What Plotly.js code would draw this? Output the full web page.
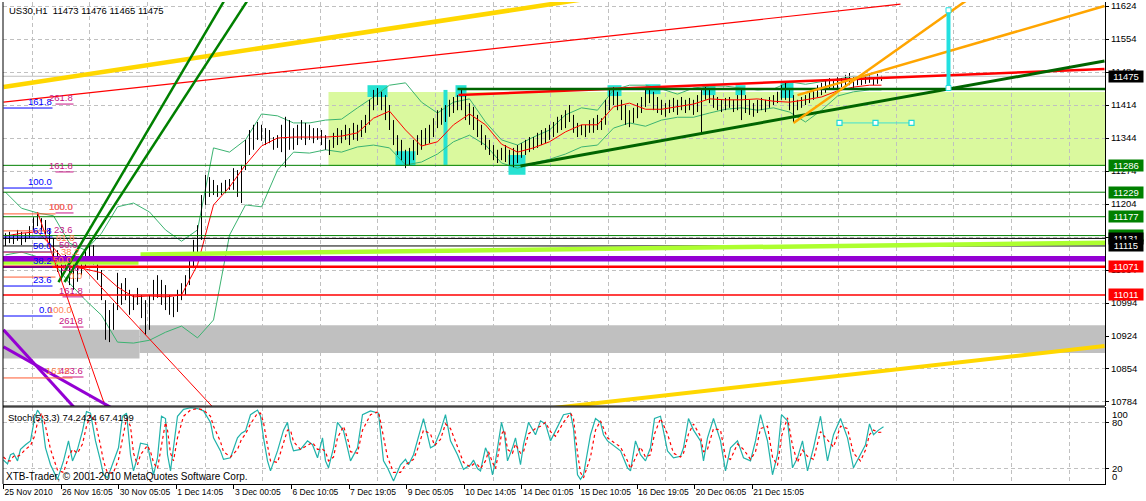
<!DOCTYPE html>
<html><head><meta charset="utf-8">
<script src="https://cdn.plot.ly/plotly-3.0.1.min.js"></script>
<style>html,body{margin:0;padding:0;background:#fff}#chart{width:1146px;height:501px}</style>
</head><body><div id="chart"></div>
<script>
// ---------- data ----------
const tickBars = [-0.5,13.9,28.3,42.7,57.1,71.5,85.9,100.3,114.7,129.1,143.5,157.9,172.3,186.7];
const tickText = ['25 Nov 2010','26 Nov 16:05','30 Nov 05:05','1 Dec 14:05','3 Dec 00:05','6 Dec 10:05','7 Dec 19:05','9 Dec 05:05','10 Dec 14:05','14 Dec 01:05','15 Dec 10:05','16 Dec 19:05','20 Dec 06:05','21 Dec 15:05'];
const priceTicks = [10784,10854,10924,10994,11064,11134,11204,11274,11344,11414,11484,11554,11624];

const barHigh = [
11142,11145,11140,11149,11145,11142,11157,11176,11183,11174,
11170,11153,11132,11106,11089,11096,11085,11081,11089,11096,
11106,11117,11117,11089,11064,11000,10979,10994,11058,11036,
11047,11022,11011,11026,11011,11000,11011,11043,11053,11043,
11032,11011,11007,11022,11036,11053,11089,11128,11159,11223,
11266,11261,11255,11244,11249,11255,11257,11280,11276,11287,
11340,11361,11372,11378,11372,11365,11361,11346,11350,11372,
11389,11382,11365,11372,11382,11376,11372,11365,11365,11361,
11350,11340,11355,11365,11361,11372,11365,11376,11372,11382,
11393,11425,11446,11450,11442,11435,11414,11382,11350,11340,
11319,11323,11340,11350,11361,11365,11372,11386,11403,11408,
11414,11425,11431,11435,11446,11435,11418,11410,11393,11372,
11350,11340,11329,11319,11323,11329,11319,11323,11329,11333,
11340,11346,11346,11355,11361,11365,11372,11378,11389,11393,
11403,11414,11393,11376,11372,11372,11382,11386,11393,11386,
11425,11446,11452,11442,11425,11414,11403,11408,11418,11431,
11450,11452,11442,11431,11425,11418,11425,11429,11425,11431,
11425,11429,11425,11435,11446,11452,11446,11435,11431,11425,
11429,11431,11425,11435,11446,11435,11425,11418,11425,11429,
11425,11431,11435,11442,11456,11461,11450,11435,11425,11431,
11435,11442,11450,11456,11461,11467,11471,11467,11473,11471,
11478,11482,11473,11471,11473,11476,11478,11473,11480,11476];
const barLow = [
11115,11121,11119,11126,11117,11123,11132,11145,11157,11149,
11140,11117,11081,11060,11043,11064,11032,11022,11039,11053,
11068,11081,11075,11043,11000,10916,10911,10937,10979,10990,
11000,10969,10979,10990,10962,10926,10937,11000,11005,10990,
10979,10969,10964,10975,11000,11011,11032,11068,11096,11128,
11202,11219,11223,11219,11223,11227,11234,11234,11219,11206,
11276,11308,11319,11340,11338,11329,11333,11319,11323,11314,
11282,11319,11319,11329,11340,11329,11340,11333,11340,11329,
11319,11308,11323,11329,11333,11340,11329,11340,11338,11346,
11355,11372,11403,11414,11403,11382,11361,11329,11308,11297,
11280,11287,11297,11308,11319,11329,11333,11346,11365,11372,
11378,11389,11397,11403,11403,11382,11372,11361,11346,11329,
11319,11308,11297,11291,11297,11293,11287,11282,11291,11302,
11308,11314,11319,11323,11329,11333,11340,11346,11355,11361,
11365,11378,11355,11346,11350,11346,11355,11355,11361,11361,
11372,11403,11414,11403,11382,11372,11367,11376,11386,11397,
11410,11418,11403,11397,11393,11389,11397,11399,11393,11403,
11397,11403,11393,11399,11355,11425,11418,11408,11403,11399,
11403,11408,11399,11403,11382,11397,11393,11389,11397,11403,
11399,11408,11414,11418,11425,11425,11403,11378,11403,11408,
11414,11418,11425,11431,11435,11440,11446,11446,11450,11452,
11452,11456,11450,11456,11456,11459,11461,11456,11459,11465];

const indBars = [0,4,8,12,16,20,24,28,32,36,40,44,48,52,56,60,64,68,72,76,80,84,88,92,96,100,104,108,112,116,120,124,128,132,136,140,144,148,152,156,160,164,168,172,176,180,184,188,192,196,200,204,208,212,216,219];
const bbUpper = [11229,11195,11185,11179,11121,11106,11142,11198,11206,11187,11149,11125,11149,11323,11314,11340,11395,11391,11376,11376,11382,11384,11408,11431,11456,11461,11420,11397,11420,11427,11378,11340,11329,11346,11361,11393,11408,11403,11446,11456,11456,11448,11437,11450,11454,11454,11450,11446,11448,11463,11458,11463,11469,11475,11473,11471];
const bbLower = [11096,11102,11092,11079,11036,11000,10968,10911,10909,10915,10932,10945,10920,10958,11138,11202,11198,11276,11314,11312,11319,11314,11325,11329,11323,11287,11293,11310,11336,11350,11329,11291,11280,11291,11299,11310,11325,11329,11365,11376,11369,11382,11388,11388,11397,11405,11408,11403,11408,11399,11378,11403,11433,11442,11446,11446];
const maRed = [11136,11142,11145,11111,11072,11066,11058,11028,11007,11009,11007,11011,11075,11202,11240,11287,11327,11344,11346,11346,11346,11348,11355,11386,11401,11361,11327,11336,11372,11395,11372,11331,11314,11323,11336,11357,11372,11372,11410,11418,11405,11405,11410,11416,11427,11425,11425,11427,11422,11420,11425,11431,11444,11452,11456,11456];

const stochBars = [
-0.5,0.5,1.25,2,3,3.75,5,6.25,7.25,8,
9,10,11.25,13,14.5,15.75,16.75,18,19.25,20.25,
21.25,22.5,23.75,24.5,25.5,27,28.25,29.25,30.25,31.25,
32,33,33.75,35.5,36.25,37,38,39,40,40.5,
41.25,42,43,44.5,46.25,48,49.5,51.25,52,53.75,
54.5,56.25,58,59,60,61.25,63,63.75,64.5,65.5,
66.25,68,69.5,70.5,71.25,72,73.75,75.5,76.75,78,
79.25,80,80.75,82,83,84.5,85.75,86.25,88,89.25,
91.25,93.25,94.5,95.5,97,98.75,100,100.75,102,103,
104.5,106.25,107.25,108.75,110,111.25,113,114.5,116.25,117,
118,118.75,120,120.75,121.75,122.5,123.25,124,124.75,125.5,
126.75,127.5,128.75,129.5,130.75,132.5,133.75,135,136.25,137.5,
139.5,141.25,142,143,143.75,144.5,146.25,147.5,148.75,149.5,
150.5,153.75,155.5,156.25,157.5,158.75,160,161.25,162.25,163.75,
165.5,167,168.75,169.5,170.75,172,173.75,174.5,175.5,177,
178.75,180,181.25,183,184.5,186.25,187.5,188.75,190.5,191.75,
193,194,195.5,196.75,198,199.25,200.5,202,203.75,205.5,
207,208.75,210.5,212,213.75,215,216,217,218.25,219.5];
const stochMain = [
31,26,38,40,30,45,51,56,85,96,
88,47,25,6,30,56,30,45,69,94,
92,56,30,12,8,28,47,88,92,38,
17,35,53,51,30,12,34,88,85,38,
17,47,88,97,99,98,95,80,60,43,
32,34,60,66,69,90,96,88,60,30,
17,43,70,80,56,43,45,56,51,34,
60,30,21,47,80,69,38,30,47,90,
95,92,30,21,4,25,32,25,38,56,
85,47,50,69,90,56,38,19,25,31,
20,17,47,38,12,30,56,80,64,30,
47,60,25,51,80,64,82,78,56,69,
90,92,72,12,6,12,64,85,80,64,
56,43,21,17,56,38,30,47,85,88,
43,34,36,47,85,70,56,30,60,85,
56,17,47,56,34,30,56,90,56,12,
38,90,82,21,34,56,17,47,88,30,
64,85,60,21,38,51,78,64,70,74.2424];
const stochSignal = [
35,30,30,36,36,38,45,50,62,80,
92,75,45,18,15,35,45,40,52,75,
90,80,50,30,14,15,32,60,85,75,
40,25,38,50,42,28,20,50,80,70,
40,30,60,88,96,98,96,88,75,55,
42,35,45,58,65,78,92,92,80,50,
30,28,55,70,70,55,45,50,54,45,
45,42,30,35,60,75,55,42,40,70,
90,94,60,35,15,15,25,28,32,45,
70,65,50,58,78,72,48,28,22,26,
25,20,30,42,28,20,40,65,70,45,
40,52,40,42,65,72,75,80,68,62,
80,92,85,40,15,8,35,70,82,72,
60,48,30,20,35,48,35,38,65,85,
65,40,35,40,65,78,62,42,45,72,
70,35,32,52,45,32,42,72,75,35,
24,62,86,50,28,44,36,32,68,58,
48,75,72,40,30,44,64,70,67,67.4199];

// horizontal lines and their axis boxes
const hLinePrice = [11475,11286,11229,11177,11137,11131,11115,11071,11011];
const hLineColor = ['#c0c0c0','#008000','#008000','#008000','#008000','#000000','#000000','#ff0000','#ff0000'];
const hLineWidth = [1,1,1,1,1,1,1,2.5,1.3];
const boxPrice = [11475,11286,11229,11177,11137,11131,11115,11071,11011];
const boxColor = ['#000000','#008000','#008000','#008000','#008000','#000000','#000000','#ff0000','#ff0000'];
const purpleBandPrice = 11088;
const limeBars = [-1,33.25,null,33.75,276];
const limePrice = [11080,11080,null,11097,11122];

// trend lines
const trendX0 = [-0.5,-0.5,123.75,13.25,14.75,8,19.25,-0.5,-0.5,113.25,113,128.75,198,197,208.5];
const trendP0 = [11452,11420,10758.7,11038.5,11038.5,11187,11070.3,10937,10901,11435.2,11448,11284.6,11435,11376,11376];
const trendX1 = [173.75,223.75,274.75,56.25,62.25,25,52.5,17.75,28.75,274.75,276,274.75,274.75,243.6,226.5];
const trendP1 = [11676,11628,10902.8,11657.9,11658.5,10773,10767,10767,10761,11490.3,11448,11507.3,11624,11656,11376];
const trendColor = ['#ffd700','#ff0000','#ffd700','#008000','#008000','#ff0000','#ff0000','#9400d3','#9400d3','#ff0000','#006400','#006400','#ffa500','#ffa500','#40e0d0'];
const trendWidth = [4.5,1.2,4,2.5,2.5,1,1,3,3,2.5,2.5,3,2.5,2.5,1];
const anchorBars = [208.5,217.5,226.5];
const anchorPrice = [11376,11376,11376];
const cyanLineBar = [235.75,235.75];
const cyanLinePrice = [11450,11615];

// rectangles
const rectGreen = {x0:80.75, x1:276, p0:11284.6, p1:11441.6};
const grayX0 = [-1,33.5], grayX1 = [33.5,276], grayP0 = [10876,10888], grayP1 = [10937,10947];
const cyanX0 = [90.5,97.5,109.5,112.5,125.75,150.5,160,174.25,182.5,193.75];
const cyanX1 = [95.5,102.5,110.5,115.25,130,154,163.75,177.5,185,197];
const cyanP0 = [11431,11285,11287,11431,11266,11433,11437,11435,11435,11429];
const cyanP1 = [11456,11316,11446,11456,11308,11456,11458,11454,11456,11461];

// fibonacci levels
const fibLineBar0 = [-0.5,-0.5,-0.5,-0.5,-0.5,-0.5,-0.5, 12.5,12.5,12.5,14.25,14.25,14.25, -0.5,-0.5,-0.5,-0.5,-0.5];
const fibLineBar1 = [11.75,11.75,11.75,11.75,11.75,11.75,11.75, 17,17,17,19.5,19.5,19.5, 12.5,11.25,12.5,12.5,16.75];
const fibLinePrice = [11407.6,11237.9,11134,11102.2,11070.3,11030,10966.4, 11416,11272,11185,11007,10943,10837, 11183,11147,11102,11049,10835];
const fibLineColor = ['#0000ff','#0000ff','#0000ff','#0000ff','#0000ff','#0000ff','#0000ff','#c71585','#c71585','#c71585','#c71585','#c71585','#c71585','#ff5a30','#ff5a30','#ff5a30','#ff5a30','#ff5a30'];
const fibText = ['161.8','100.0','61.8','50.0','38.2','23.6','0.0','261.8','161.8','100.0','161.8','261.8','423.6','100.0','100.0','161.8','23.6','61.8','50.0','38.2','50.0','23.6','0.0'];
const fibTextBar = [11.75,11.75,11.75,11.75,11.75,11.75,11.75,17,17,17,19.5,19.5,19.5,17,16.75,16.25,17,17.5,18.25,18.75,16.75,18.75,19.25];
const fibTextPrice = [11407.6,11237.9,11134,11102.2,11070.3,11030,10966.4,11416,11272,11185,11007,10943,10837,11185,10966.4,10837,11136,11119,11104,11089,11072,11056,11039];
const fibTextColor = ['#0000ff','#0000ff','#0000ff','#0000ff','#0000ff','#0000ff','#0000ff','#c71585','#c71585','#c71585','#c71585','#c71585','#c71585','#ff7f50','#ff7f50','#ff7f50','#c71585','#ff7f50','#c71585','#ff7f50','#ff7f50','#c71585','#ff7f50'];

// ---------- layout helpers ----------
const FONT = 'Liberation Sans, Arial, sans-serif';
const L=3, R=41, T=2, B=17, W=1146, H=501;
const PW = W-L-R, PH = H-T-B;
const px = v => (v-L)/PW;
const py = v => (H-B-v)/PH;
const mainDomain = [py(406), 1];
const stochDomain = [0, py(407)];

const traces = [];
const base = {mode:'lines', hoverinfo:'skip', showlegend:false, xaxis:'x'};

traces.push(Object.assign({}, base, {x:indBars, y:bbUpper, yaxis:'y', line:{color:'#3cb371', width:1}}));
traces.push(Object.assign({}, base, {x:indBars, y:bbLower, yaxis:'y', line:{color:'#3cb371', width:1}}));

const bx=[], by=[];
for (let i=0;i<barHigh.length;i++){ bx.push(i,i,null); by.push(barLow[i],barHigh[i],null); }
traces.push(Object.assign({}, base, {x:bx, y:by, yaxis:'y', connectgaps:false, line:{color:'#000', width:1}}));
traces.push(Object.assign({}, base, {x:indBars, y:maRed, yaxis:'y', line:{color:'#ff0000', width:1}}));

for (let i=0;i<hLinePrice.length;i++){
  traces.push(Object.assign({}, base, {x:[-1,276], y:[hLinePrice[i],hLinePrice[i]], yaxis:'y', line:{color:hLineColor[i], width:hLineWidth[i]}}));
}
traces.push(Object.assign({}, base, {x:limeBars, y:limePrice, yaxis:'y', connectgaps:false, line:{color:'#adff2f', width:4.5}}));
traces.push(Object.assign({}, base, {x:[-1,276], y:[purpleBandPrice,purpleBandPrice], yaxis:'y', line:{color:'#9400d3', width:5.5}}));

for (let i=0;i<trendX0.length;i++){
  traces.push(Object.assign({}, base, {x:[trendX0[i],trendX1[i]], y:[trendP0[i],trendP1[i]], yaxis:'y', line:{color:trendColor[i], width:trendWidth[i]}}));
}
traces.push(Object.assign({}, base, {x:cyanLineBar, y:cyanLinePrice, yaxis:'y', mode:'lines+markers', line:{color:'#22e0e0', width:4}, marker:{symbol:'square', size:5, color:'#fff', line:{color:'#22e0e0', width:1}}}));
traces.push(Object.assign({}, base, {x:anchorBars, y:anchorPrice, yaxis:'y', mode:'markers', marker:{symbol:'square', size:5, color:'#fff', line:{color:'#22d8d8', width:1.2}}}));

for (let i=0;i<fibLineBar0.length;i++){
  traces.push(Object.assign({}, base, {x:[fibLineBar0[i],fibLineBar1[i]], y:[fibLinePrice[i],fibLinePrice[i]], yaxis:'y', line:{color:fibLineColor[i], width:1}}));
}

traces.push(Object.assign({}, base, {x:stochBars, y:stochMain, yaxis:'y2', line:{color:'#20b2aa', width:1.2}}));
traces.push(Object.assign({}, base, {x:stochBars, y:stochSignal, yaxis:'y2', line:{color:'#ff0000', width:1.2, dash:'dot'}}));

const shapes = [];
shapes.push({type:'rect', xref:'x', yref:'y', x0:rectGreen.x0, x1:rectGreen.x1, y0:rectGreen.p0, y1:rectGreen.p1, fillcolor:'#daf99e', line:{width:0}, layer:'below'});
for (let i=0;i<grayX0.length;i++) shapes.push({type:'rect', xref:'x', yref:'y', x0:grayX0[i], x1:grayX1[i], y0:grayP0[i], y1:grayP1[i], fillcolor:'#c0c0c0', line:{width:0}, layer:'below'});
for (let i=0;i<cyanX0.length;i++) shapes.push({type:'rect', xref:'x', yref:'y', x0:cyanX0[i], x1:cyanX1[i], y0:cyanP0[i], y1:cyanP1[i], fillcolor:'#26e2d2', line:{width:0}, layer:'between'});
shapes.push({type:'line', xref:'paper', yref:'paper', x0:0, x1:1, y0:mainDomain[0], y1:mainDomain[0], line:{color:'#000', width:1}});
shapes.push({type:'line', xref:'paper', yref:'paper', x0:0, x1:1, y0:stochDomain[1], y1:stochDomain[1], line:{color:'#000', width:1}});
shapes.push({type:'line', xref:'paper', yref:'paper', x0:0, x1:0, y0:0, y1:1, line:{color:'#000', width:1}});

const ann = [];
const txt = (x,y,text,opt) => Object.assign({x:x, y:y, xref:'paper', yref:'paper', text:text, showarrow:false, xanchor:'left', yanchor:'middle', font:{family:FONT, size:9.5, color:'#000'}}, opt||{});
ann.push(txt(px(7), py(10), 'US30,H1\u00a0\u00a011473 11476 11465 11475'));
ann.push(txt(px(6), py(417), 'Stoch(5,3,3) 74.2424 67.4199'));
ann.push(txt(px(4), py(476), 'XTB-Trader, \u00a9 2001-2010 MetaQuotes Software Corp.', {font:{family:FONT, size:10, color:'#000'}}));
for (let i=0;i<fibText.length;i++){
  ann.push({x:fibTextBar[i], y:fibTextPrice[i], xref:'x', yref:'y', text:fibText[i], showarrow:false, xanchor:'right', yanchor:'bottom', borderpad:0, font:{family:FONT, size:9.5, color:fibTextColor[i]}});
}
for (let i=0;i<boxPrice.length;i++){
  ann.push({x:1, y:boxPrice[i], xref:'paper', yref:'y', xshift:3, text:String(boxPrice[i]), showarrow:false, xanchor:'left', yanchor:'middle', bgcolor:boxColor[i], width:34, height:11, borderpad:0, font:{family:FONT, size:9.5, color:'#fff'}});
}
const stochLabels = [['100',100,'top'],['80',80,'middle'],['20',20,'middle'],['0',0,'bottom']];
stochLabels.forEach(s => ann.push({x:1, y:s[1], xref:'paper', yref:'y2', xshift:5, text:s[0], showarrow:false, xanchor:'left', yanchor:s[2], font:{family:FONT, size:9.5, color:'#000'}}));

const gridBars = [];
for (let k=0;k<19;k++) gridBars.push(tickBars[0] + 7.2 + 14.4*k);

const layout = {
  width:W, height:H, margin:{l:L, r:R, t:T, b:B}, paper_bgcolor:'#fff', plot_bgcolor:'#fff',
  showlegend:false, hovermode:false, dragmode:false,
  xaxis:{range:[-0.625,274.875], anchor:'y2', tickmode:'array', tickvals:tickBars, ticktext:tickText,
    tickangle:0, ticks:'outside', ticklen:4, tickcolor:'#000', ticklabelposition:'outside right', ticklabelstandoff:0,
    tickfont:{family:FONT, size:8.5, color:'#000'}, showline:true, linecolor:'#000', linewidth:1,
    showgrid:false, zeroline:false,
    minor:{tickmode:'array', tickvals:gridBars, showgrid:true, gridcolor:'#c0c0c0', griddash:'4px,3px', ticks:''}},
  yaxis:{domain:mainDomain, range:[10775.5,11632.5], side:'right', anchor:'x', tickmode:'array', tickvals:priceTicks,
    ticktext:priceTicks.map(String),
    ticks:'outside', ticklen:3, tickcolor:'#000', tickfont:{family:FONT, size:9.5, color:'#000'},
    showline:true, linecolor:'#000', linewidth:1, showgrid:true, gridcolor:'#c0c0c0', griddash:'4px,3px', zeroline:false},
  yaxis2:{domain:stochDomain, range:[0,100], side:'right', anchor:'x', tickmode:'array', tickvals:[20,80],
    showticklabels:false, ticks:'outside', ticklen:3, tickcolor:'#000',
    showline:true, linecolor:'#000', linewidth:1, showgrid:true, gridcolor:'#c0c0c0', griddash:'4px,3px', zeroline:false},
  shapes:shapes, annotations:ann
};
Plotly.newPlot('chart', traces, layout, {displayModeBar:false, staticPlot:true});
</script></body></html>
